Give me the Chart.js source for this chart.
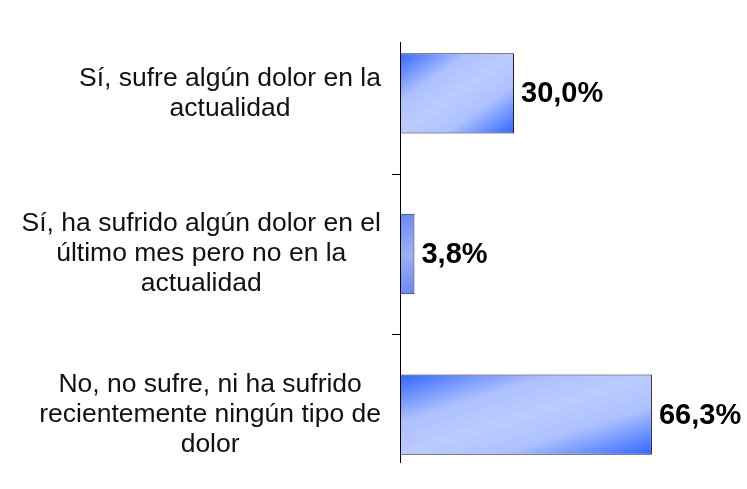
<!DOCTYPE html>
<html>
<head>
<meta charset="utf-8">
<script src="https://cdn.jsdelivr.net/npm/chart.js@4"></script>
<style>
  html, body { margin: 0; padding: 0; background: #fff; overflow: hidden; }
  #wrap { width: 747px; height: 508px; position: relative; }
</style>
</head>
<body>
<div id="wrap"><canvas id="dolorChart"></canvas></div>
<script>
// datos del gráfico
const categorias = [
    ["Sí, sufre algún dolor en la", "actualidad"],
    ["Sí, ha sufrido algún dolor en el", "último mes pero no en la", "actualidad"],
    ["No, no sufre, ni ha sufrido", "recientemente ningún tipo de", "dolor"]
];
const porcentajes = [30.0, 3.8, 66.3];

const FUENTE = "'Liberation Sans', Arial, sans-serif";

// degradado azul diagonal (esquinas sup-izq e inf-der oscuras, banda clara en medio)
function barGradient(ctx) {
    const chart = ctx.chart;
    if (!chart.chartArea || !chart.scales.x || !chart.scales.y) return "#8aa4ff";
    const xs = chart.scales.x, ys = chart.scales.y;
    const x0 = xs.getPixelForValue(0);
    const x1 = xs.getPixelForValue(ctx.raw);
    const yc = ys.getPixelForValue(ctx.dataIndex);
    const w = x1 - x0, h = 80, y0 = yc - h / 2;
    if (w < 30) {
        const g = chart.ctx.createLinearGradient(x0, y0, x1, y0 + h);
        g.addColorStop(0, "#6a88f2");
        g.addColorStop(0.5, "#9cb0f6");
        g.addColorStop(1, "#6a88f2");
        return g;
    }
    const k = 2 * w * h / (w * w + h * h);
    const g = chart.ctx.createLinearGradient(x0, y0, x0 + k * h, y0 + k * w);
    g.addColorStop(0, "#3366ff");
    g.addColorStop(0.3, "#adc0ff");
    g.addColorStop(0.5, "#bccbff");
    g.addColorStop(0.7, "#adc0ff");
    g.addColorStop(1, "#3366ff");
    return g;
}

// eje vertical, marcas, textos de categoría y valores
const etiquetasPlugin = {
    id: "etiquetas",
    afterDraw(chart) {
        const ctx = chart.ctx;
        const xs = chart.scales.x, ys = chart.scales.y;
        const x0 = xs.getPixelForValue(0);

        ctx.save();
        ctx.strokeStyle = "#000";
        ctx.lineWidth = 1;
        ctx.beginPath();
        ctx.moveTo(x0 + 0.5, 42);
        ctx.lineTo(x0 + 0.5, 463);
        for (let i = 0; i < categorias.length - 1; i++) {
            const yt = Math.round((ys.getPixelForValue(i) + ys.getPixelForValue(i + 1)) / 2) + 0.5;
            ctx.moveTo(x0 - 8, yt);
            ctx.lineTo(x0, yt);
        }
        ctx.stroke();

        // textos de categoría: bloque alineado a la derecha, líneas centradas
        ctx.font = "26.5px " + FUENTE;
        ctx.fillStyle = "#111";
        ctx.textAlign = "center";
        ctx.textBaseline = "middle";
        categorias.forEach((lineas, i) => {
            const yc = ys.getPixelForValue(i);
            const ancho = Math.max(...lineas.map(l => ctx.measureText(l).width));
            const cx = x0 - 19 - ancho / 2;
            lineas.forEach((l, k) => {
                ctx.fillText(l, cx, yc + (k - (lineas.length - 1) / 2) * 30);
            });
        });

        // valores
        ctx.font = "bold 29px " + FUENTE;
        ctx.fillStyle = "#000";
        ctx.textAlign = "left";
        porcentajes.forEach((v, i) => {
            const x = xs.getPixelForValue(v) + 7;
            const y = ys.getPixelForValue(i) + 1;
            ctx.fillText(v.toFixed(1).replace(".", ",") + "%", x, y);
        });
        ctx.restore();
    }
};

new Chart(document.getElementById("dolorChart"), {
    type: "bar",
    data: {
        labels: categorias,
        datasets: [{
            data: porcentajes,
            backgroundColor: barGradient,
            borderColor: "#1c1c3a",
            borderWidth: 1,
            borderSkipped: false,
            categoryPercentage: 0.5,
            barPercentage: 1.0
        }]
    },
    options: {
        indexAxis: "y",
        responsive: true,
        maintainAspectRatio: false,
        animation: false,
        layout: { padding: { left: 400, right: 43, top: 13, bottom: 13 } },
        plugins: {
            legend: { display: false },
            tooltip: { enabled: false }
        },
        scales: {
            x: { display: false, min: 0, max: 80 },
            y: { display: false, offset: true }
        }
    },
    plugins: [etiquetasPlugin]
});
</script>
</body>
</html>
